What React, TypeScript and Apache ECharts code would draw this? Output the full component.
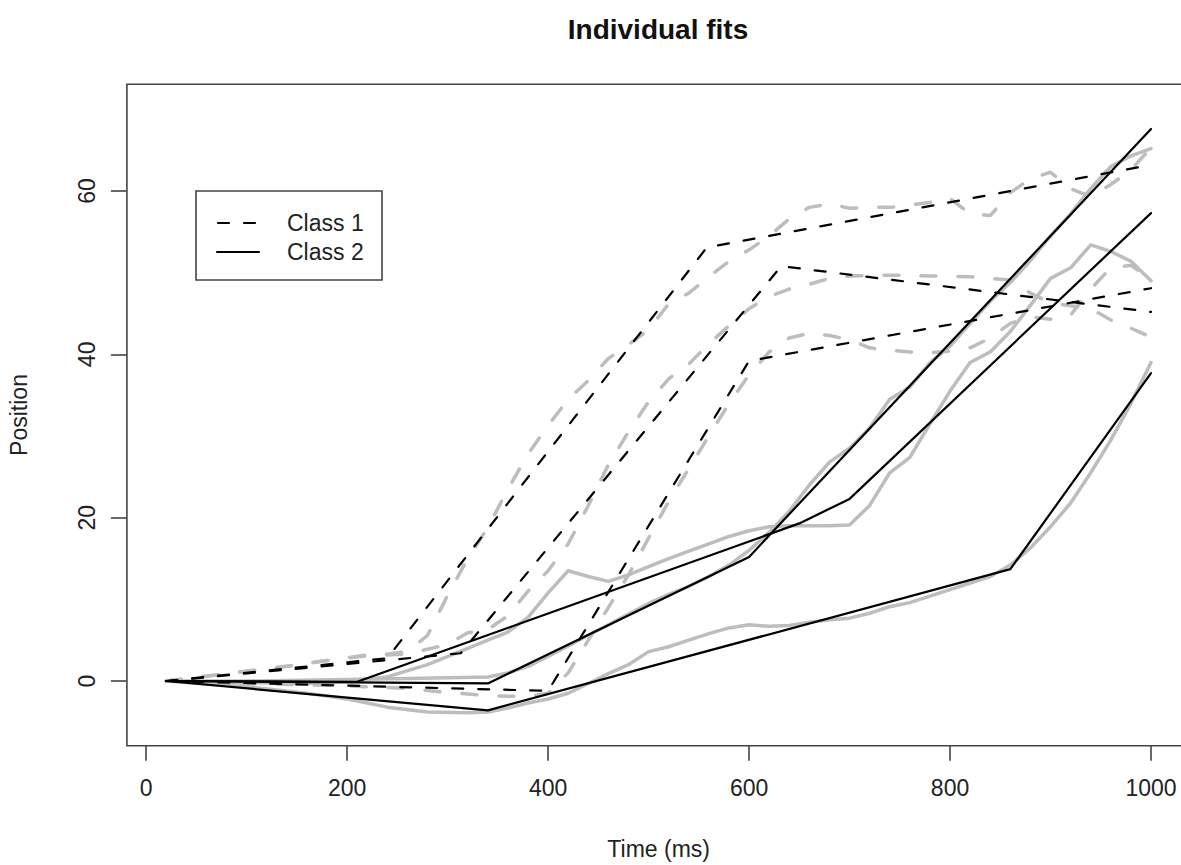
import React, { useEffect, useRef } from "react";
import * as echarts from "echarts";

// ---- axis ticks ----
const xTicks = [0, 200, 400, 600, 800, 1000];
const yTicks = [0, 20, 40, 60];

// ---- legend ----
const legendLabels = ["Class 1", "Class 2"];

// ---- individual fits (black) ----
const fitC1aX = [20, 240, 558, 1000];
const fitC1aY = [0, 2.8, 53.1, 63.2];
const fitC1bX = [20, 313, 632, 1000];
const fitC1bY = [0, 3.4, 50.8, 45.2];
const fitC1cX = [20, 400, 600, 1000];
const fitC1cY = [0, -1.2, 39.2, 48.1];
const fitC2aX = [20, 340, 600, 1000];
const fitC2aY = [0, -0.3, 15.2, 67.6];
const fitC2bX = [20, 210, 650, 700, 1000];
const fitC2bY = [0, -0.1, 19.3, 22.3, 57.3];
const fitC2cX = [20, 340, 860, 1000];
const fitC2cY = [0, -3.6, 13.7, 37.7];

// ---- raw trajectories (grey) ----
const rawC1aX = [20, 60, 100, 140, 180, 220, 240, 260, 280, 300, 320, 340, 360, 380, 400, 420, 440, 460, 480, 500, 520, 540, 560, 580, 600, 620, 640, 660, 680, 700, 720, 740, 760, 780, 800, 820, 840, 860, 880, 900, 920, 940, 960, 980, 1000];
const rawC1aY = [0, 0.6, 1.2, 1.8, 2.5, 3.2, 3.3, 3.6, 5.6, 10.5, 15, 18.8, 23.5, 27.8, 31.3, 34.5, 36.8, 39.5, 41.2, 43, 46.2, 47.5, 49.5, 51.4, 52.8, 54.5, 56.6, 58, 58.4, 57.9, 58, 58, 58.3, 58.6, 59.1, 57.2, 57, 59.8, 61.5, 62.3, 60.3, 59.3, 60.8, 62.6, 65.3];

const rawC1bX = [20, 60, 100, 140, 180, 220, 260, 300, 320, 340, 360, 380, 400, 420, 440, 460, 480, 500, 520, 540, 560, 580, 600, 620, 640, 660, 680, 700, 740, 780, 820, 860, 880, 900, 940, 960, 980, 1000];
const rawC1bY = [0, 0.6, 1.2, 1.8, 2.5, 3.1, 3.3, 4.5, 5.9, 6.3, 8, 11, 13.5, 16.8, 21.5, 26.5, 30.5, 34.2, 37, 38.8, 41.3, 43.5, 45.6, 47.1, 48, 48.6, 49.3, 49.6, 49.7, 49.6, 49.5, 49.1, 47.5, 46.3, 45.6, 44.2, 43.2, 42.1];

const rawC1cX = [20, 100, 200, 260, 300, 340, 380, 400, 420, 440, 460, 480, 500, 520, 540, 560, 580, 600, 620, 640, 660, 680, 700, 720, 740, 760, 780, 800, 820, 840, 860, 880, 900, 920, 940, 960, 980, 1000];
const rawC1cY = [0, -0.3, -0.6, -0.9, -1.4, -1.8, -1.9, -1.5, 1, 5, 9, 13, 17.5, 22, 26, 30, 34, 37.5, 40.3, 42, 42.6, 42.3, 41.8, 40.8, 40.5, 40.3, 40.2, 40.4, 40.8, 42, 43.8, 44.6, 44.3, 44.8, 48, 50.6, 50.9, 49.2];

const rawC2aX = [20, 100, 200, 260, 300, 340, 360, 380, 400, 420, 440, 460, 480, 500, 520, 540, 560, 580, 600, 620, 640, 660, 680, 700, 720, 740, 760, 780, 800, 820, 840, 860, 880, 900, 920, 940, 960, 980, 1000];
const rawC2aY = [0, 0, 0.2, 0.3, 0.4, 0.5, 1, 1.8, 3, 4.3, 5.6, 6.9, 8.2, 9.5, 10.6, 11.6, 12.8, 14.2, 16, 18.2, 20.8, 24, 26.8, 28.5, 31, 34.5, 36, 39, 41, 43.8, 46.5, 48.8, 51.5, 54.5, 57.2, 60.3, 63, 64.3, 65.2];

const rawC2bX = [20, 100, 160, 200, 240, 280, 320, 340, 360, 380, 400, 420, 440, 460, 480, 500, 520, 540, 560, 580, 600, 620, 640, 660, 680, 700, 720, 740, 760, 780, 800, 820, 840, 860, 880, 900, 920, 940, 960, 980, 1000];
const rawC2bY = [0, -0.2, -0.3, 0, 0.5, 2, 4, 5, 6, 7.8, 10.8, 13.5, 12.8, 12.2, 13, 14, 15, 15.9, 16.8, 17.7, 18.4, 18.9, 19, 19, 19, 19.1, 21.5, 25.5, 27.4, 31.5, 35.5, 39, 40.3, 42.8, 46, 49.3, 50.6, 53.4, 52.6, 51.4, 49];

const rawC2cX = [20, 100, 160, 200, 240, 280, 320, 340, 360, 380, 400, 420, 440, 460, 480, 500, 520, 540, 560, 580, 600, 620, 640, 660, 680, 700, 720, 740, 760, 780, 800, 820, 840, 860, 880, 900, 920, 940, 960, 980, 1000];
const rawC2cY = [0, -0.7, -1.5, -2.2, -3.2, -3.8, -3.9, -3.8, -3.3, -2.7, -2.2, -1.5, -0.3, 0.9, 2, 3.6, 4.2, 5, 5.8, 6.5, 6.9, 6.7, 6.8, 7.2, 7.5, 7.7, 8.3, 9.1, 9.6, 10.4, 11.2, 12, 12.8, 14.2, 16.3, 18.9, 21.8, 25.5, 29.5, 34, 39];

const FONT = "'Liberation Sans', Arial, Helvetica, sans-serif";
const GREY = "#bdbdbd";
const BLACK_DASH = [11, 15];
const GREY_DASH = [15, 22];

const pairs = (xs: number[], ys: number[]) => xs.map((x, i) => [x, ys[i]]);

function lineSeries(name: string, xs: number[], ys: number[], color: string, width: number, dash: number[] | null, z: number) {
  return {
    name,
    type: "line",
    data: pairs(xs, ys),
    showSymbol: false,
    symbol: "none",
    silent: true,
    z,
    lineStyle: {
      color,
      width,
      type: dash ? dash : "solid",
      cap: "round",
      join: "round",
    },
    emphasis: { disabled: true },
  };
}

export default function App() {
  const ref = useRef<HTMLDivElement>(null);
  useEffect(() => {
    if (!ref.current) return;
    const chart = echarts.init(ref.current, undefined, { renderer: "svg" });
    const axisColor = "#444";
    const option: any = {
      animation: false,
      backgroundColor: "#ffffff",
      title: {
        text: "Individual fits",
        left: 658,
        top: 15,
        textAlign: "center",
        padding: 0,
        textStyle: { fontFamily: FONT, fontSize: 28, fontWeight: "bold", color: "#111" },
      },
      grid: {
        left: 126.9,
        right: -9.4,
        top: 84.3,
        bottom: 119.3,
        show: true,
        borderColor: axisColor,
        borderWidth: 1.6,
        backgroundColor: "transparent",
        containLabel: false,
        outerBoundsMode: "none",
      },
      xAxis: {
        type: "value",
        min: -19.2,
        max: 1039.2,
        splitLine: { show: false },
        axisLine: { show: false, onZero: false },
        axisTick: { show: true, length: 15, lineStyle: { color: axisColor, width: 1.6 }, customValues: xTicks },
        axisLabel: {
          customValues: xTicks,
          margin: 31,
          fontSize: 23,
          color: "#222",
          fontFamily: FONT,
          formatter: (v: number) => String(v),
        },
        name: "Time (ms)",
        nameLocation: "middle",
        nameGap: 92,
        nameTextStyle: { fontSize: 23, color: "#222", fontFamily: FONT },
      },
      yAxis: {
        type: "value",
        min: -7.92,
        max: 73.07,
        splitLine: { show: false },
        axisLine: { show: false, onZero: false },
        axisTick: { show: true, length: 16, lineStyle: { color: axisColor, width: 1.6 }, customValues: yTicks },
        axisLabel: {
          customValues: yTicks,
          rotate: 90,
          margin: 28,
          fontSize: 23,
          color: "#222",
          fontFamily: FONT,
          formatter: (v: number) => String(v),
        },
        name: "Position",
        nameLocation: "middle",
        nameGap: 96,
        nameRotate: 90,
        nameTextStyle: { fontSize: 23, color: "#222", fontFamily: FONT },
      },
      graphic: [
        {
          type: "rect",
          z: 100,
          shape: { x: 196, y: 191, width: 186, height: 89 },
          style: { fill: "#ffffff", stroke: axisColor, lineWidth: 1.6 },
        },
        {
          type: "line",
          z: 101,
          shape: { x1: 218, y1: 223, x2: 258, y2: 223 },
          style: { stroke: "#000", lineWidth: 2.2, lineDash: BLACK_DASH, lineCap: "round" },
        },
        {
          type: "line",
          z: 101,
          shape: { x1: 217, y1: 252, x2: 259, y2: 252 },
          style: { stroke: "#000", lineWidth: 2.2, lineCap: "round" },
        },
        {
          type: "text",
          z: 101,
          x: 287,
          y: 223,
          style: { text: legendLabels[0], fontSize: 23, fontFamily: FONT, fill: "#222", verticalAlign: "middle", align: "left" },
        },
        {
          type: "text",
          z: 101,
          x: 287,
          y: 252,
          style: { text: legendLabels[1], fontSize: 23, fontFamily: FONT, fill: "#222", verticalAlign: "middle", align: "left" },
        },
      ],
      series: [
        lineSeries("raw C1a", rawC1aX, rawC1aY, GREY, 3.5, GREY_DASH, 2),
        lineSeries("raw C1b", rawC1bX, rawC1bY, GREY, 3.5, GREY_DASH, 2),
        lineSeries("raw C1c", rawC1cX, rawC1cY, GREY, 3.5, GREY_DASH, 2),
        lineSeries("raw C2a", rawC2aX, rawC2aY, GREY, 3.5, null, 2),
        lineSeries("raw C2b", rawC2bX, rawC2bY, GREY, 3.5, null, 2),
        lineSeries("raw C2c", rawC2cX, rawC2cY, GREY, 3.5, null, 2),
        lineSeries("fit C1a", fitC1aX, fitC1aY, "#000", 2.2, BLACK_DASH, 3),
        lineSeries("fit C1b", fitC1bX, fitC1bY, "#000", 2.2, BLACK_DASH, 3),
        lineSeries("fit C1c", fitC1cX, fitC1cY, "#000", 2.2, BLACK_DASH, 3),
        lineSeries("fit C2a", fitC2aX, fitC2aY, "#000", 2.2, null, 3),
        lineSeries("fit C2b", fitC2bX, fitC2bY, "#000", 2.2, null, 3),
        lineSeries("fit C2c", fitC2cX, fitC2cY, "#000", 2.2, null, 3),
      ],
    };
    chart.setOption(option);
    return () => chart.dispose();
  }, []);
  return (
    <div
      ref={ref}
      style={{ position: "fixed", left: 0, top: 0, width: 1181, height: 865, background: "#fff" }}
    />
  );
}
